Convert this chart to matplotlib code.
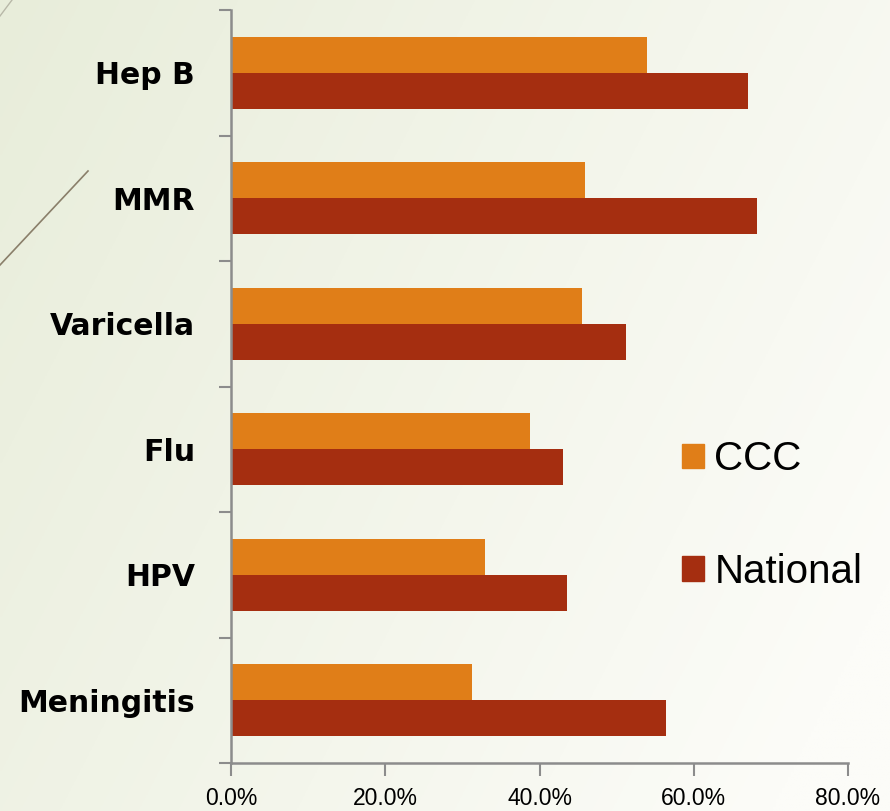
import matplotlib.pyplot as plt
import numpy as np
from matplotlib.lines import Line2D
from matplotlib.patches import Patch

categories = ['Hep B', 'MMR', 'Varicella', 'Flu', 'HPV', 'Meningitis']
ccc = [53.9, 45.9, 45.5, 38.8, 32.9, 31.3]
national = [67.0, 68.2, 51.2, 43.1, 43.6, 56.4]
xticks = [0, 20, 40, 60, 80]

orange = '#E07E18'
red = '#A52E10'
axis_grey = '#8C8C8C'

fig = plt.figure(figsize=(8.9, 8.11), dpi=100)

# background gradient (greenish left -> near white right)
bg = fig.add_axes([0, 0, 1, 1])
xx, yy = np.meshgrid(np.linspace(0, 1, 300), np.linspace(0, 1, 300))
t = np.clip(0.75 * xx + 0.35 * yy, 0, 1)
left_c = np.array([232, 237, 218]) / 255
right_c = np.array([252, 252, 248]) / 255
img = left_c[None, None, :] * (1 - t[..., None]) + right_c[None, None, :] * t[..., None]
bg.imshow(img, extent=[0, 1, 0, 1], aspect='auto', origin='upper')
bg.set_xlim(0, 1)
bg.set_ylim(0, 1)
bg.axis('off')
# decorative strokes
bg.add_line(Line2D([0, 88 / 890], [1 - 265 / 811, 1 - 171 / 811], color='#8a7f6a', lw=1.2))
bg.add_line(Line2D([0, 12 / 890], [1 - 16 / 811, 1], color='#b8b8a8', lw=1.0))

ax = fig.add_axes([231 / 890, 48 / 811, (848 - 231) / 890, (763 - 10) / 811])
ax.patch.set_alpha(0)

y = np.arange(len(categories))
h = 0.285
ax.barh(y - h / 2, ccc, height=h, color=orange, label='CCC')
ax.barh(y + h / 2, national, height=h, color=red, label='National')

ax.set_ylim(len(categories) - 0.5, -0.5)
ax.set_xlim(0, 80)
ax.set_yticks(np.arange(-0.5, len(categories), 1))
ax.set_yticklabels([])
ax.set_yticks(y, minor=True)
ax.set_yticklabels(categories, minor=True, fontsize=21.5, fontweight='bold', family='DejaVu Sans')
ax.tick_params(axis='y', which='minor', length=0, pad=26)
ax.tick_params(axis='y', which='major', length=9, width=1.5, color=axis_grey)
ax.set_xticks(xticks)
ax.set_xticklabels(['{:.1f}%'.format(v) for v in xticks], fontsize=16.5, family='Liberation Sans')
ax.tick_params(axis='x', length=9, width=1.5, color=axis_grey, pad=8)

for s in ['top', 'right']:
    ax.spines[s].set_visible(False)
for s in ['left', 'bottom']:
    ax.spines[s].set_color(axis_grey)
    ax.spines[s].set_linewidth(1.8)

handles = [Patch(color=orange), Patch(color=red)]
leg = fig.legend(handles, ['CCC', 'National'], loc='upper left',
                 bbox_to_anchor=(646 / 890, 1 - 404 / 811), frameon=False,
                 prop={'family': 'Liberation Sans', 'size': 29},
                 handlelength=0.55, handleheight=0.55, handletextpad=0.25,
                 labelspacing=1.85)

fig.savefig('out.png', dpi=100)
